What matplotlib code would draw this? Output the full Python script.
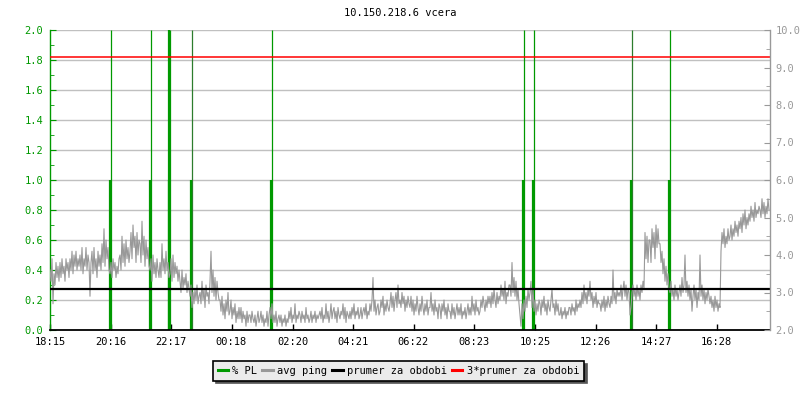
import matplotlib

matplotlib.use("Agg")
import matplotlib.pyplot as plt  # noqa: E402
from matplotlib.lines import Line2D  # noqa: E402

# time axis: minutes since 18:15 (24 h window)
tick_minutes = [0, 121, 242, 363, 485, 606, 727, 848, 970, 1091, 1212, 1333]
tick_labels = ["18:15", "20:16", "22:17", "00:18", "02:20", "04:21",
               "06:22", "08:23", "10:25", "12:26", "14:27", "16:28"]

# avg ping in ms, one sample every 2 minutes
ping_step = 2
ping_ms = [
    3.6, 3.3, 3.9, 2.7, 3.5, 3.2, 3.8, 3.4, 3.7, 3.3,
    3.8, 3.4, 3.9, 3.5, 3.7, 3.3, 3.9, 3.6, 3.8, 3.4,
    3.9, 3.6, 4.1, 3.5, 4.0, 3.7, 4.1, 3.6, 3.9, 3.7,
    4.0, 3.6, 4.2, 3.5, 3.9, 3.7, 4.2, 3.6, 4.0, 3.8,
    2.9, 3.8, 4.1, 3.5, 4.2, 3.6, 3.9, 3.4, 4.1, 3.7,
    4.0, 3.6, 4.3, 3.8, 4.7, 3.7, 4.4, 3.9, 4.2, 3.6,
    3.5, 3.8, 3.4, 3.9, 3.6, 3.8, 3.4, 3.7, 3.5, 3.9,
    4.0, 3.6, 4.5, 3.8, 4.3, 3.7, 4.4, 3.9, 4.2, 3.8,
    4.1, 4.6, 3.9, 4.8, 4.2, 4.5, 3.8, 4.6, 4.0, 4.4,
    4.3, 3.8, 4.9, 4.0, 4.5, 3.7, 4.4, 3.9, 4.2, 3.7,
    3.6, 3.9, 3.3, 4.0, 3.5, 3.8, 3.4, 3.9, 3.6, 3.4,
    3.8, 3.4, 4.3, 3.6, 3.9, 3.5, 4.1, 3.6, 3.8, 3.4,
    3.5, 3.9, 3.3, 4.0, 3.4, 3.8, 3.5, 3.7, 3.3, 3.6,
    3.3, 3.0, 3.6, 3.1, 3.4, 3.2, 3.5, 3.0, 3.3, 3.1,
    2.9, 3.2, 2.6, 3.0, 2.7, 3.1, 2.8, 3.2, 2.7, 2.9,
    3.0, 2.7, 3.3, 2.8, 3.1, 2.6, 3.2, 2.9, 3.0, 2.7,
    3.3, 4.1, 3.0, 3.6, 2.9, 3.4, 2.8, 3.3, 3.0, 2.8,
    2.8, 2.5, 2.9, 2.4, 2.7, 2.3, 2.8, 2.5, 3.0, 2.4,
    2.5, 2.8, 2.3, 2.6, 2.4, 2.7, 2.2, 2.5, 2.3, 2.6,
    2.3, 2.6, 2.2, 2.5, 2.3, 2.4, 2.1, 2.5, 2.2, 2.4,
    2.4, 2.2, 2.5, 2.3, 2.2, 2.4, 2.1, 2.3, 2.5, 2.2,
    2.3, 2.5, 2.2, 2.4, 2.1, 2.3, 2.2, 2.5, 2.1, 2.4,
    2.6, 2.3, 2.7, 2.2, 2.4, 2.2, 2.5, 2.1, 2.3, 2.4,
    2.2, 2.4, 2.1, 2.3, 2.2, 2.4, 2.1, 2.3, 2.2, 2.5,
    2.3, 2.6, 2.2, 2.4, 2.3, 2.7, 2.2, 2.4, 2.3, 2.5,
    2.4, 2.2, 2.5, 2.3, 2.4, 2.2, 2.6, 2.3, 2.4, 2.2,
    2.3, 2.5, 2.2, 2.4, 2.3, 2.5, 2.2, 2.4, 2.3, 2.4,
    2.5, 2.3, 2.6, 2.2, 2.4, 2.3, 2.7, 2.3, 2.5, 2.2,
    2.4, 2.7, 2.3, 2.5, 2.6, 2.3, 2.5, 2.2, 2.6, 2.4,
    2.3, 2.5, 2.4, 2.7, 2.3, 2.6, 2.2, 2.5, 2.4, 2.3,
    2.5, 2.3, 2.6, 2.4, 2.7, 2.3, 2.5, 2.4, 2.6, 2.3,
    2.4, 2.6, 2.3, 2.5, 2.6, 2.4, 2.7, 2.3, 2.5, 2.4,
    2.7, 2.5, 2.8, 3.4, 2.5, 2.8, 2.4, 2.6, 2.7, 2.4,
    2.5, 2.8, 2.6, 2.9, 2.4, 2.7, 2.5, 2.8, 2.6, 2.5,
    2.7, 3.0, 2.6, 2.9, 2.5, 2.8, 3.0, 2.6, 3.2, 2.7,
    2.8, 2.6, 3.0, 2.7, 2.9, 2.5, 2.8, 2.6, 2.9, 2.7,
    2.6, 2.9, 2.5, 2.8, 2.4, 2.7, 2.5, 2.9, 2.6, 2.4,
    2.7, 2.5, 2.9, 2.6, 2.4, 2.7, 2.5, 2.8, 2.4, 2.6,
    2.6, 3.0, 2.5, 2.7, 2.4, 2.8, 2.5, 2.6, 2.3, 2.7,
    2.6, 2.3, 2.7, 2.5, 2.8, 2.4, 2.6, 2.3, 2.7, 2.5,
    2.5, 2.3, 2.7, 2.4, 2.6, 2.3, 2.5, 2.7, 2.4, 2.6,
    2.4, 2.7, 2.3, 2.5, 2.4, 2.6, 2.3, 2.5, 2.7, 2.4,
    2.6, 2.4, 2.9, 2.5, 2.7, 2.4, 2.8, 2.5, 2.6, 2.4,
    2.5, 2.8, 2.6, 2.9, 2.7, 2.5, 2.8, 2.6, 2.9, 2.7,
    2.9, 2.6, 3.0, 2.7, 3.1, 2.8, 2.6, 3.0, 2.7, 2.9,
    2.8, 3.2, 2.9, 3.1, 2.8, 3.3, 2.7, 3.0, 2.9, 3.2,
    3.2, 2.9, 3.8, 3.0, 3.4, 2.9, 3.3, 2.8, 3.1, 2.7,
    2.4, 2.1, 2.7, 2.3, 2.8, 2.5, 2.9, 2.6, 3.1, 2.8,
    3.0, 3.3, 2.6, 3.1, 2.5, 2.8, 2.4, 2.7, 2.5, 2.8,
    2.7, 2.4, 2.8, 2.6, 2.9, 2.5, 2.7, 2.4, 2.8, 2.6,
    2.5, 2.8, 3.1, 2.6, 2.7, 2.4, 2.8, 2.5, 2.7, 2.4,
    2.4, 2.6, 2.3, 2.5, 2.4, 2.6, 2.3, 2.5, 2.4, 2.6,
    2.6, 2.4, 2.7, 2.5, 2.6, 2.4, 2.8, 2.5, 2.7, 2.6,
    2.8, 2.6, 3.0, 2.7, 3.2, 2.8, 3.0, 2.7, 3.1, 2.9,
    3.3, 2.8, 3.0, 2.6, 2.9, 2.7, 3.0, 2.6, 2.8, 2.7,
    2.7, 2.5, 2.8, 2.6, 2.9, 2.5, 2.8, 2.6, 2.9, 2.7,
    2.6, 2.9, 2.7, 3.6, 2.8, 3.0, 2.7, 3.1, 2.9, 3.0,
    2.9, 3.2, 2.8, 3.1, 3.3, 2.9, 3.2, 2.8, 3.1, 3.0,
    2.4, 2.6, 3.0, 3.2, 2.9, 3.1, 2.8, 3.2, 2.9, 3.1,
    2.8, 3.2, 3.0, 3.3, 3.1, 4.6, 3.9, 4.5, 3.8, 4.4,
    4.4, 3.8, 4.7, 4.2, 4.6, 3.9, 4.8, 4.2, 4.7, 4.3,
    4.3, 3.8, 4.1, 3.5, 3.9, 3.3, 3.7, 3.2, 3.5, 3.1,
    3.0, 3.3, 2.9, 3.1, 2.8, 3.2, 2.9, 3.1, 2.8, 3.0,
    3.2, 2.9, 3.4, 3.0, 3.2, 4.0, 3.0, 3.3, 2.9, 3.2,
    2.8, 3.1, 2.5, 2.9, 3.2, 2.8, 3.1, 2.6, 3.0, 2.8,
    4.0, 2.9, 3.2, 2.8, 3.1, 2.7, 3.0, 2.8, 3.1, 2.9,
    2.7, 2.9, 2.6, 2.8, 2.5, 2.9, 2.6, 2.8, 2.5, 2.7,
    2.6, 4.1, 4.6, 4.3, 4.7, 4.2, 4.5, 4.3, 4.7, 4.4,
    4.5, 4.8, 4.4, 4.7, 4.5, 4.9, 4.6, 4.8, 4.5, 4.9,
    4.7, 5.0, 4.6, 5.1, 4.8, 5.2, 4.7, 5.0, 4.8, 5.1,
    4.9, 5.3, 5.0, 5.2, 4.9, 5.4, 5.0, 5.2, 5.1, 5.3,
    5.2, 5.0, 5.5, 5.1, 5.4, 5.0, 5.3, 5.1, 5.5, 5.2,
]
ping_minutes = [i * ping_step for i in range(len(ping_ms))]
mean_ping = 3.09

# packet loss events: minute of each spike, lower sample at 1 %, upper clipped
pl_minutes = [120, 200, 238, 282, 442, 946, 966, 1162, 1238]
pl_low = [1.0] * len(pl_minutes)
pl_high = [2.0] * len(pl_minutes)
pl_high_color = ["#009900", "#009900", "#009900", "#2d7d2d", "#009900",
                 "#009900", "#009900", "#2d7d2d", "#009900"]

GREEN = "#009900"
GRAY = "#999999"
FS = 7.5

plt.rcParams["font.family"] = "DejaVu Sans Mono"

fig = plt.figure(figsize=(8, 4), dpi=100)
ax = fig.add_axes([50 / 800, 70 / 400, 720 / 800, 300 / 400])
ax2 = ax.twinx()

# left axis: % PL
ax.set_xlim(0, 1440)
ax.set_ylim(0, 2.0)
ax.set_yticks([i * 0.2 for i in range(11)])
ax.set_yticks([0.1 + i * 0.2 for i in range(10)], minor=True)
ax.set_yticklabels([f"{i * 0.2:.1f}" for i in range(11)])
ax.grid(True, axis="y", color="#c0c0c0", linewidth=1.0)
ax.set_axisbelow(True)
ax.vlines([m + 1 for m in pl_minutes], 0, pl_high, colors=pl_high_color,
          linewidth=0.9)
ax.vlines(pl_minutes, 0, pl_low, color=GREEN, linewidth=1.6)
ax.vlines([238], 0, [2.0], color=GREEN, linewidth=1.6)

ax.set_xticks(tick_minutes)
ax.set_xticklabels(tick_labels)
ax.tick_params(axis="x", direction="in", length=4, width=1, color="black",
               labelsize=FS, pad=5)
ax.tick_params(axis="y", which="both", direction="in", color=GREEN,
               labelcolor=GREEN, labelsize=FS, pad=5)
ax.tick_params(axis="y", which="major", length=4)
ax.tick_params(axis="y", which="minor", length=3)
ax.spines["left"].set_color(GREEN)
ax.spines["left"].set_linewidth(1.0)
ax.spines["bottom"].set_color("black")
ax.spines["bottom"].set_linewidth(1.3)
ax.spines["top"].set_visible(False)
ax.spines["right"].set_visible(False)

# right axis: ping in ms
ax2.set_ylim(2.0, 10.0)
ax2.set_yticks(range(2, 11))
ax2.set_yticks([2.5 + i for i in range(8)], minor=True)
ax2.set_yticklabels([f"{v:.1f}" for v in range(2, 11)])
ax2.tick_params(axis="y", which="both", direction="in", color=GRAY,
                labelcolor=GRAY, labelsize=FS, pad=4)
ax2.tick_params(axis="y", which="major", length=4)
ax2.tick_params(axis="y", which="minor", length=3)
for side in ("left", "top", "bottom"):
    ax2.spines[side].set_visible(False)
ax2.spines["right"].set_color(GRAY)
ax2.spines["right"].set_linewidth(1.0)

ax2.plot(ping_minutes, ping_ms, color=GRAY, linewidth=0.8)
ax2.axhline(mean_ping, color="black", linewidth=1.6)
ax2.axhline(3 * mean_ping, color="#ff0000", linewidth=1.1)

fig.text(0.5, 1 - 13 / 400, "10.150.218.6 vcera", ha="center", va="center",
         fontsize=FS, color="black")

handles = [
    Line2D([], [], color=GREEN, linewidth=2.2),
    Line2D([], [], color=GRAY, linewidth=2.2),
    Line2D([], [], color="black", linewidth=2.2),
    Line2D([], [], color="#ff0000", linewidth=2.2),
]
labels = ["% PL", "avg ping", "prumer za obdobi", "3*prumer za obdobi"]
leg = fig.legend(handles, labels, loc="center", bbox_to_anchor=(0.498, 0.0725),
                 ncol=4, fontsize=FS, handlelength=1.0, handletextpad=0.4,
                 columnspacing=0.5, borderpad=0.45, fancybox=False,
                 facecolor="#ebebeb", edgecolor="black", framealpha=1,
                 shadow={"color": "#555555", "alpha": 1})
leg.get_frame().set_linewidth(1.2)

fig.savefig("out.png", dpi=100)
